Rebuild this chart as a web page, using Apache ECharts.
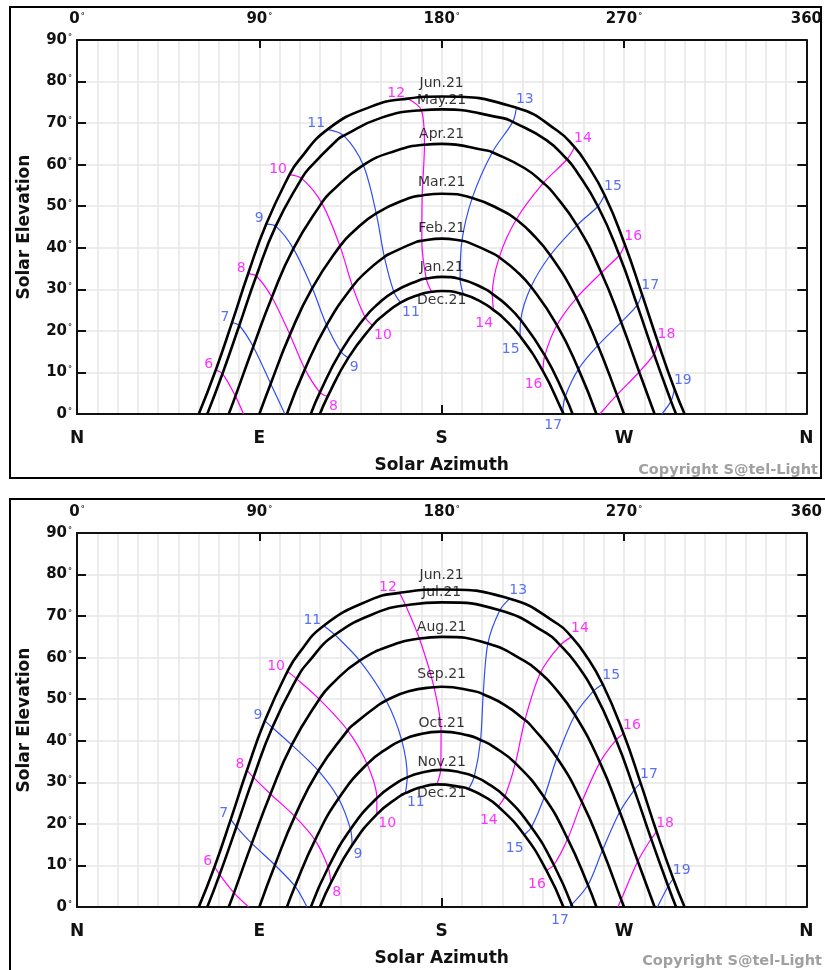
<!DOCTYPE html>
<html>
<head>
<meta charset="utf-8">
<script src="https://cdn.jsdelivr.net/npm/echarts/dist/echarts.min.js"></script>
<style>
html,body{margin:0;padding:0;background:#fff;}
#chart{width:825px;height:970px;}
</style>
</head>
<body>
<div id="chart"></div>
<script>
// ---------------- DATA ----------------
const TOP_AXIS_LABELS = ['0°', '90°', '180°', '270°', '360'];
const DIRECTION_LABELS = ['N', 'E', 'S', 'W', 'N'];
const HOURS = [6, 7, 8, 9, 10, 11, 12, 13, 14, 15, 16, 17, 18, 19];
const HOURS_WITH_LOWER_LABEL = [8, 9, 10, 11, 14, 15, 16, 17];

// extra points read along each day path near its top: [azimuth, elevation]
const PATH_JUN = [[109.3,60.9],[122.7,68.1],[144.8,73.9],[215.2,73.9],[237.3,68.1],[250.7,60.9]];
const PATH_MAY_JUL = [[114.3,59.0],[128.3,65.9],[149.7,71.2],[210.3,71.2],[231.7,65.9],[245.7,59.0]];
const PATH_APR_AUG = [[125.1,53.3],[139.2,59.2],[157.7,63.4],[202.3,63.4],[220.8,59.2],[234.9,53.3]];
const PATH_MAR_SEP = [[136.2,43.8],[148.8,48.6],[163.7,51.9],[196.3,51.9],[211.2,48.6],[223.8,43.8]];
const PATH_FEB_OCT = [[143.4,34.5],[154.5,38.6],[166.9,41.3],[193.1,41.3],[205.5,38.6],[216.6,34.5]];
const PATH_JAN_NOV = [[148.4,26.4],[158.2,30.0],[168.9,32.2],[191.1,32.2],[201.8,30.0],[211.6,26.4]];
const PATH_DEC = [[150.0,23.3],[159.4,26.7],[169.5,28.8],[190.5,28.8],[200.6,26.7],[210.0,23.3]];

// upper panel
const TOP_MONTHS = ['Jun.21', 'May.21', 'Apr.21', 'Mar.21', 'Feb.21', 'Jan.21', 'Dec.21'];
const TOP_SUNRISE_AZ = [60.1, 64.3, 74.9, 90.0, 103.6, 115.4, 119.9];
const TOP_SUNSET_AZ = [299.9, 295.7, 285.1, 270.0, 256.4, 244.6, 240.1];
const TOP_NOON_EL = [76.4, 73.3, 65.0, 53.0, 42.2, 33.0, 29.6];
// [clock hour, azimuth, elevation]
const jun21Top = [[6,68.5,10.6],[7,76.5,22.0],[8,84.5,33.8],[9,93.4,45.7],[10,104.9,57.6],[11,123.7,68.5],[12,163.2,75.9],[13,216.9,73.7],[14,245.6,64.2],[15,260.4,52.7],[16,270.4,40.8],[17,278.8,28.9],[18,286.8,17.2],[19,294.9,6.0]];
const may21 = [[6,71.8,9.7],[7,80.1,21.3],[8,88.5,33.2],[9,98.1,45.2],[10,110.9,56.7],[11,131.7,67.0],[12,170.0,73.1],[13,215.1,70.3],[14,241.9,61.3],[15,257.1,50.0],[16,267.7,38.2],[17,276.5,26.2],[18,284.8,14.4],[19,293.2,3.1]];
const apr21 = [[6,78.2,4.3],[7,87.0,16.2],[8,96.2,28.1],[9,106.8,39.8],[10,120.8,50.8],[11,141.3,59.9],[12,171.5,64.8],[13,205.0,63.0],[14,230.2,55.6],[15,246.8,45.4],[16,258.8,34.0],[17,268.6,22.1],[18,277.5,10.1]];
const mar21 = [[7,95.6,7.3],[8,105.1,19.1],[9,116.1,30.3],[10,129.8,40.4],[11,147.7,48.3],[12,170.4,52.6],[13,195.1,52.0],[14,216.8,46.8],[15,233.6,38.2],[16,246.5,27.9],[17,257.1,16.5],[18,266.5,4.6]];
const feb21 = [[8,112.5,10.8],[9,123.2,21.4],[10,136.0,30.7],[11,151.7,37.8],[12,170.2,41.7],[13,190.0,41.7],[14,208.4,37.7],[15,224.1,30.6],[16,236.9,21.4],[17,247.5,10.8]];
const jan21 = [[8,119.9,5.2],[9,130.2,15.0],[10,142.2,23.3],[11,156.4,29.4],[12,172.4,32.6],[13,189.1,32.5],[14,205.0,28.9],[15,219.0,22.6],[16,230.9,14.1],[17,241.0,4.2]];
const dec21Top = [[8,123.7,4.2],[9,133.9,13.5],[10,145.9,21.3],[11,159.7,26.8],[12,175.0,29.4],[13,190.7,28.8],[14,205.6,25.0],[15,218.7,18.7],[16,230.0,10.3],[17,239.7,0.5]];
// where hour lines meet the horizon: [hour, azimuth, elevation]
const TOP_HOUR_ENDS = [[6,82.2,0],[7,102.6,0],[18,258.1,0],[19,288.7,0]];

// lower panel
const BOTTOM_MONTHS = ['Jun.21', 'Jul.21', 'Aug.21', 'Sep.21', 'Oct.21', 'Nov.21', 'Dec.21'];
const BOTTOM_SUNRISE_AZ = [60.1, 64.3, 74.9, 90.0, 103.6, 115.4, 119.9];
const BOTTOM_SUNSET_AZ = [299.9, 295.7, 285.1, 270.0, 256.4, 244.6, 240.1];
const BOTTOM_NOON_EL = [76.4, 73.3, 65.0, 53.0, 42.2, 33.0, 29.6];
const jun21Bot = [[6,67.9,9.7],[7,75.9,21.1],[8,83.9,32.9],[9,92.7,44.8],[10,103.9,56.7],[11,121.8,67.7],[12,159.1,75.6],[13,213.6,74.2],[14,244.1,65.0],[15,259.5,53.6],[16,269.8,41.7],[17,278.2,29.8],[18,286.1,18.1],[19,294.3,6.8]];
const jul21 = [[6,70.4,7.8],[7,78.7,19.3],[8,87.1,31.2],[9,96.4,43.2],[10,108.4,54.9],[11,127.3,65.5],[12,162.2,72.6],[13,208.7,71.4],[14,238.5,63.0],[15,255.0,52.0],[16,266.1,40.2],[17,275.1,28.2],[18,283.4,16.4],[19,291.8,5.0]];
const aug21 = [[6,77.5,3.4],[7,86.3,15.3],[8,95.5,27.2],[9,106.0,39.0],[10,119.6,50.0],[11,139.5,59.3],[12,169.0,64.6],[13,202.8,63.4],[14,228.7,56.3],[15,245.8,46.2],[16,258.1,34.8],[17,267.9,22.9],[18,276.8,11.0]];
const sep21 = [[7,97.7,10.1],[8,107.5,21.8],[9,119.1,32.8],[10,133.6,42.5],[11,152.6,49.7],[12,176.2,52.9],[13,200.5,51.2],[14,221.1,45.0],[15,236.9,35.9],[16,249.2,25.3],[17,259.4,13.7],[18,268.6,1.8]];
const oct21 = [[7,107.6,5.0],[8,117.5,16.1],[9,129.1,26.1],[10,143.2,34.4],[11,160.3,40.1],[12,179.7,42.2],[13,199.2,40.2],[14,216.4,34.6],[15,230.6,26.4],[16,242.2,16.4],[17,252.2,5.3]];
const nov21 = [[8,124.0,9.5],[9,135.0,18.7],[10,148.0,26.2],[11,163.0,31.2],[12,179.5,33.0],[13,196.1,31.4],[14,211.2,26.6],[15,224.3,19.2],[16,235.4,10.1]];
const dec21Bot = [[8,125.3,5.8],[9,135.8,14.9],[10,148.0,22.3],[11,162.1,27.4],[12,177.6,29.5],[13,193.3,28.4],[14,207.9,24.2],[15,220.7,17.4],[16,231.7,8.8]];
const BOTTOM_HOUR_ENDS = [[6,84.7,0],[7,113.5,0],[17,243.0,0],[18,267.0,0],[19,286.5,0]];

// ---------------- STYLE ----------------
const FONT = 'DejaVu Sans';
const BLUE = '#2f4ff2';
const MAGENTA = '#ff00ff';
const GRIDLINE = '#e6e6e6';
const TOP_LABEL_GAP = [6, 1.5, 2, 4, 3, 2, 2];
const BOTTOM_LABEL_GAP = [6.5, 2.5, 2, 4.5, 0.5, 0.5, 2];

const PATHS = [PATH_JUN, PATH_MAY_JUL, PATH_APR_AUG, PATH_MAR_SEP, PATH_FEB_OCT, PATH_JAN_NOV, PATH_DEC];

const panels = [
  { top: 40, months: TOP_MONTHS, rise: TOP_SUNRISE_AZ, set: TOP_SUNSET_AZ, noon: TOP_NOON_EL,
    hours: [jun21Top, may21, apr21, mar21, feb21, jan21, dec21Top], ends: TOP_HOUR_ENDS, gaps: TOP_LABEL_GAP },
  { top: 533, months: BOTTOM_MONTHS, rise: BOTTOM_SUNRISE_AZ, set: BOTTOM_SUNSET_AZ, noon: BOTTOM_NOON_EL,
    hours: [jun21Bot, jul21, aug21, sep21, oct21, nov21, dec21Bot], ends: BOTTOM_HOUR_ENDS, gaps: BOTTOM_LABEL_GAP }
];

const degRich = {
  n: { fontFamily: FONT, fontWeight: 'bold', fontSize: 15, color: '#111' },
  d: { fontFamily: FONT, fontWeight: 'bold', fontSize: 8, color: '#111', verticalAlign: 'top', padding: [1, 0, 0, 1] }
};
const titleStyle = { fontFamily: FONT, fontWeight: 'bold', fontSize: 17, color: '#111' };

const grid = [], xAxis = [], yAxis = [], series = [];

panels.forEach((P, p) => {
  grid.push({ left: 77, top: P.top, width: 730, height: 374 });
  xAxis.push({
    gridIndex: p, type: 'value', min: 0, max: 360, interval: 90, position: 'bottom',
    axisLine: { show: true, onZero: false, lineStyle: { color: '#111', width: 2 } },
    axisTick: { show: false },
    axisLabel: { formatter: v => DIRECTION_LABELS[Math.round(v / 90)], fontFamily: FONT, fontWeight: 'bold', fontSize: 17, color: '#111', margin: 16 },
    splitLine: { show: true, lineStyle: { color: GRIDLINE, width: 1.5 } },
    minorTick: { show: false, splitNumber: 9 },
    minorSplitLine: { show: true, lineStyle: { color: GRIDLINE, width: 1.5 } },
    name: 'Solar Azimuth', nameLocation: 'middle', nameGap: 43, nameTextStyle: titleStyle
  });
  xAxis.push({
    gridIndex: p, type: 'value', min: 0, max: 360, interval: 90, position: 'top',
    axisLine: { show: true, onZero: false, lineStyle: { color: '#111', width: 2 } },
    axisTick: { show: true, inside: true, length: 8, lineStyle: { color: '#111', width: 2 } },
    axisLabel: {
      formatter: v => {
        const t = TOP_AXIS_LABELS[Math.round(v / 90)];
        return t.endsWith('°') ? '{n|' + t.slice(0, -1) + '}{d|°}' : '{n|' + t + '}';
      },
      rich: degRich, margin: 13
    },
    splitLine: { show: false }
  });
  xAxis.push({
    gridIndex: p, type: 'value', min: 0, max: 360, interval: 180, position: 'bottom',
    axisLine: { show: false }, axisLabel: { show: false }, splitLine: { show: false },
    axisTick: { show: true, inside: true, length: 9, lineStyle: { color: '#111', width: 2 } }
  });
  yAxis.push({
    gridIndex: p, type: 'value', min: 0, max: 90, interval: 10, position: 'left',
    axisLine: { show: true, onZero: false, lineStyle: { color: '#111', width: 2 } },
    axisTick: { show: true, inside: true, length: 9, lineStyle: { color: '#111', width: 2 } },
    axisLabel: { formatter: v => '{n|' + v + '}{d|°}', rich: degRich, margin: 5 },
    splitLine: { show: true, lineStyle: { color: GRIDLINE, width: 1.5 } },
    name: 'Solar Elevation', nameLocation: 'middle', nameGap: 44, nameTextStyle: titleStyle
  });
  yAxis.push({
    gridIndex: p, type: 'value', min: 0, max: 90, interval: 10, position: 'right',
    axisLine: { show: true, onZero: false, lineStyle: { color: '#111', width: 2 } },
    axisTick: { show: true, inside: true, length: 9, lineStyle: { color: '#111', width: 2 } },
    axisLabel: { show: false }, splitLine: { show: false }
  });

  const xi = p * 3, yi = p * 2;
  const labels = [];

  // day paths
  P.hours.forEach((hrs, i) => {
    const main = hrs.map(r => [r[1], r[2]]);
    const extra = PATHS[i].concat([[180, P.noon[i]]])
      .filter(q => !main.some(m => Math.abs(m[0] - q[0]) < 2.5));
    const pts = main.concat(extra, [[P.rise[i], 0], [P.set[i], 0]]);
    pts.sort((a, b) => a[0] - b[0]);
    series.push({
      type: 'line', xAxisIndex: xi, yAxisIndex: yi, data: pts, smooth: 0.5,
      symbol: 'none', silent: true, z: 4, animation: false,
      lineStyle: { color: '#000', width: 2.6 }
    });
    const below = i === P.hours.length - 1;
    labels.push({
      value: [180, P.noon[i]],
      label: {
        show: true, formatter: P.months[i], position: below ? 'bottom' : 'top', distance: P.gaps[i],
        color: '#000', fontFamily: FONT, fontSize: 14
      }
    });
  });

  // hour lines
  HOURS.forEach(h => {
    const pts = [];
    P.hours.forEach(hrs => {
      const r = hrs.find(q => q[0] === h);
      if (r) pts.push([r[1], r[2]]);
    });
    const e = P.ends.find(q => q[0] === h);
    if (e) pts.push([e[1], e[2]]);
    if (pts.length < 2) return;
    const col = h % 2 ? BLUE : MAGENTA;
    series.push({
      type: 'line', xAxisIndex: xi, yAxisIndex: yi, data: pts, smooth: 0.3,
      symbol: 'none', silent: true, z: 3, animation: false,
      lineStyle: { color: col, width: 1.2 }
    });
    const morning = h <= 12;
    labels.push({
      value: pts[0],
      label: {
        show: true, formatter: String(h), color: col, fontFamily: FONT, fontSize: 14,
        position: morning ? [-2, 2] : [0, -1], align: morning ? 'right' : 'left', verticalAlign: 'bottom'
      }
    });
    if (HOURS_WITH_LOWER_LABEL.includes(h)) {
      labels.push({
        value: pts[pts.length - 1],
        label: {
          show: true, formatter: String(h), color: col, fontFamily: FONT, fontSize: 14,
          position: morning ? [2, 3] : [0, 7], align: morning ? 'left' : 'right', verticalAlign: 'top'
        }
      });
    }
  });

  series.push({
    type: 'scatter', xAxisIndex: xi, yAxisIndex: yi, data: labels, symbol: 'circle', symbolSize: 1,
    itemStyle: { color: 'rgba(0,0,0,0)' }, silent: true, z: 6, animation: false, clip: false
  });
});

const graphic = [
  { type: 'rect', shape: { x: 10, y: 7, width: 811, height: 471 }, style: { fill: 'none', stroke: '#000', lineWidth: 2 }, silent: true },
  { type: 'rect', shape: { x: 10, y: 499, width: 818, height: 480 }, style: { fill: 'none', stroke: '#000', lineWidth: 2 }, silent: true },
  { type: 'text', style: { text: 'Copyright S@tel-Light', x: 818, y: 470, align: 'right', textAlign: 'right', verticalAlign: 'middle', textVerticalAlign: 'middle', fontFamily: FONT, fontWeight: 'bold', fontSize: 14.5, fill: '#a0a0a0' }, silent: true },
  { type: 'text', style: { text: 'Copyright S@tel-Light', x: 822, y: 961, align: 'right', textAlign: 'right', verticalAlign: 'middle', textVerticalAlign: 'middle', fontFamily: FONT, fontWeight: 'bold', fontSize: 14.5, fill: '#a0a0a0' }, silent: true }
];

const chart = echarts.init(document.getElementById('chart'), null, { renderer: 'canvas' });
chart.setOption({ animation: false, backgroundColor: '#fff', grid, xAxis, yAxis, series, graphic });
</script>
</body>
</html>
